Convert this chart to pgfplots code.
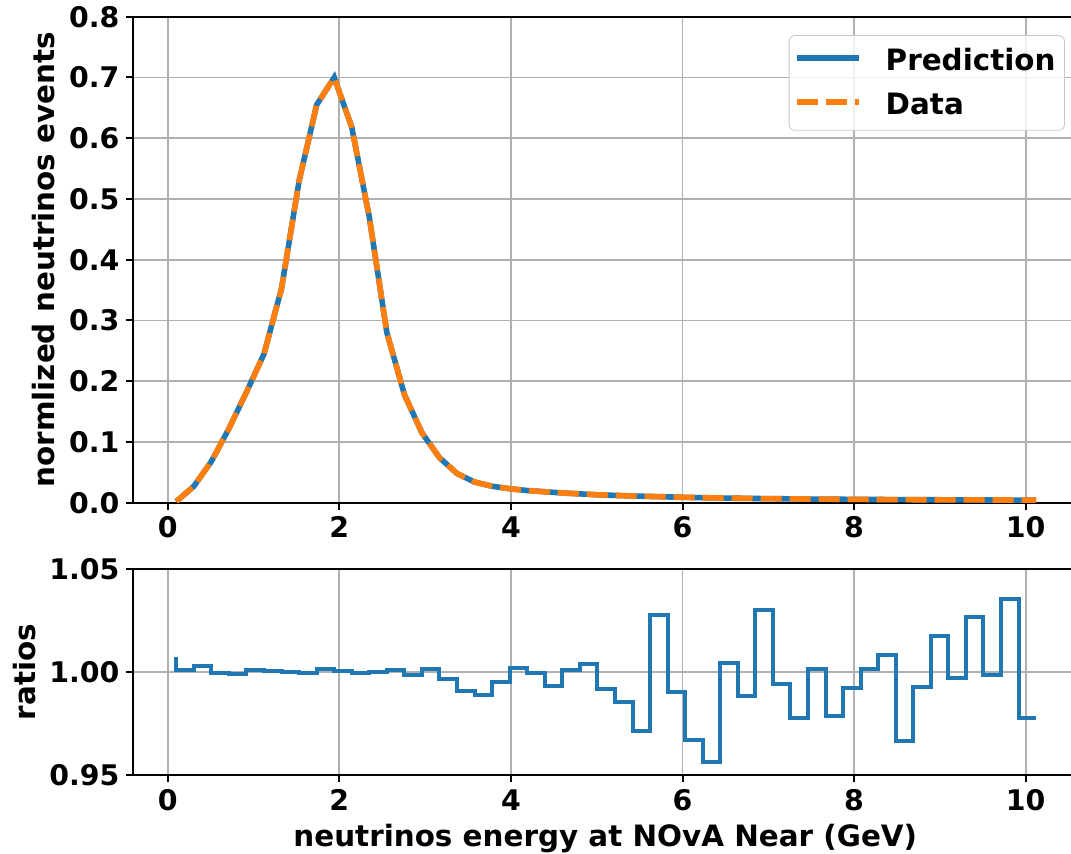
\documentclass[border=0pt]{standalone}
\usepackage{fontspec}
\setmainfont{DejaVu Sans}
\usepackage{pgfplots}
\usepackage{pgfplotstable}
\pgfplotsset{compat=1.18}
\definecolor{mblue}{HTML}{1F77B4}
\definecolor{morange}{HTML}{FF7F0E}
\definecolor{mgrid}{HTML}{B0B0B0}

\pgfplotstableread{
x y
0.1 0.002
0.3045 0.027
0.509 0.068
0.7135 0.122
0.918 0.182
1.1225 0.245
1.327 0.353
1.5315 0.530
1.736 0.655
1.9405 0.700
2.145 0.618
2.3495 0.470
2.554 0.280
2.7585 0.178
2.963 0.115
3.1675 0.074
3.372 0.048
3.5765 0.034
3.781 0.027
3.9855 0.023
4.19 0.020
4.3945 0.018
4.599 0.016
4.8035 0.0145
5.008 0.013
5.2125 0.012
5.417 0.011
5.6215 0.0103
5.826 0.0095
6.0305 0.0088
6.235 0.0082
6.4395 0.0077
6.644 0.0073
6.8485 0.0069
7.053 0.0066
7.2575 0.0063
7.462 0.0060
7.6665 0.0058
7.871 0.0056
8.0755 0.0054
8.28 0.0052
8.4845 0.0051
8.689 0.0049
8.8935 0.0048
9.098 0.0047
9.3025 0.0046
9.507 0.0045
9.7115 0.0044
9.916 0.0043
10.1205 0.0042
}\topdata

\pgfplotstableread{
x r
0.1 1.0073
0.3045 1.0011
0.509 1.0031
0.7135 0.9998
0.918 0.9989
1.1225 1.0010
1.327 1.0006
1.5315 1.0002
1.736 0.9998
1.9405 1.0013
2.145 1.0006
2.3495 0.9997
2.554 1.0002
2.7585 1.0010
2.963 0.9985
3.1675 1.0015
3.372 0.9966
3.5765 0.9911
3.781 0.9887
3.9855 0.9953
4.19 1.0018
4.3945 0.9994
4.599 0.9935
4.8035 1.0008
5.008 1.0040
5.2125 0.9919
5.417 0.9854
5.6215 0.9715
5.826 1.0277
6.0305 0.9903
6.235 0.9672
6.4395 0.9563
6.644 1.0044
6.8485 0.9885
7.053 1.0299
7.2575 0.9942
7.462 0.9777
7.6665 1.0016
7.871 0.9788
8.0755 0.9922
8.28 1.0015
8.4845 1.0084
8.689 0.9667
8.8935 0.9927
9.098 1.0173
9.3025 0.9971
9.507 1.0267
9.7115 0.9987
9.916 1.0354
10.1205 0.9777
}\ratiodata

\begin{document}
\begin{tikzpicture}
\pgfplotsset{
  common/.style={
    scale only axis, width=471.9pt,
    xmin=-0.4, xmax=10.6,
    xtick={0,2,4,6,8,10},
    grid=major,
    major grid style={mgrid, line width=0.85pt},
    axis line style={line width=1pt, black},
    every tick/.style={line width=1pt, black},
    major tick length=3.5pt,
    tick align=outside,
    xtick pos=left, ytick pos=left,
    /pgf/number format/assume math mode=true,
    tick label style={font=\fontsize{14.2}{17}\selectfont\bfseries},
    label style={font=\fontsize{14.7}{17.6}\selectfont\bfseries},
  }
}
\begin{axis}[common, name=bot,
  height=103.15pt,
  ymin=0.95, ymax=1.05,
  ytick={0.95,1.00,1.05},
  yticklabel style={/pgf/number format/.cd, fixed, fixed zerofill, precision=2},
  xlabel={neutrinos energy at NOvA Near (GeV)},
  ylabel={ratios},
]
\addplot[const plot mark right, mblue, line width=2pt] table[x=x, y=r] {\ratiodata};
\end{axis}

\begin{axis}[common, name=top,
  at={(0pt,136.3pt)}, anchor=south west,
  height=243pt,
  ymin=0, ymax=0.8,
  ytick={0,0.1,...,0.8},
  yticklabel style={/pgf/number format/.cd, fixed, fixed zerofill, precision=1},
  ylabel={normlized neutrinos events},
  legend style={at={(0.987,0.962)}, anchor=north east,
    draw=mgrid!70, rounded corners=3pt, fill=white, fill opacity=0.8, text opacity=1,
    font=\fontsize{14.7}{17.6}\selectfont\bfseries,
    inner xsep=2.5pt, inner ysep=4.5pt, row sep=5.5pt},
  legend cell align=left,
  legend image code/.code={\draw[#1] (0pt,1.5pt) -- (31pt,1.5pt); \path (41pt,1.5pt);},
]
\addplot[mblue, line width=2.8pt] table[x=x, y=y] {\topdata};
\addlegendentry{Prediction}
\addplot[morange, line width=2.8pt, dash pattern=on 10.5pt off 4pt] table[x=x, y=y] {\topdata};
\addlegendentry{Data}
\end{axis}
\pgfresetboundingbox
\useasboundingbox (-66.7pt,-39.35pt) rectangle (468.8pt,387.65pt);
\end{tikzpicture}
\end{document}
